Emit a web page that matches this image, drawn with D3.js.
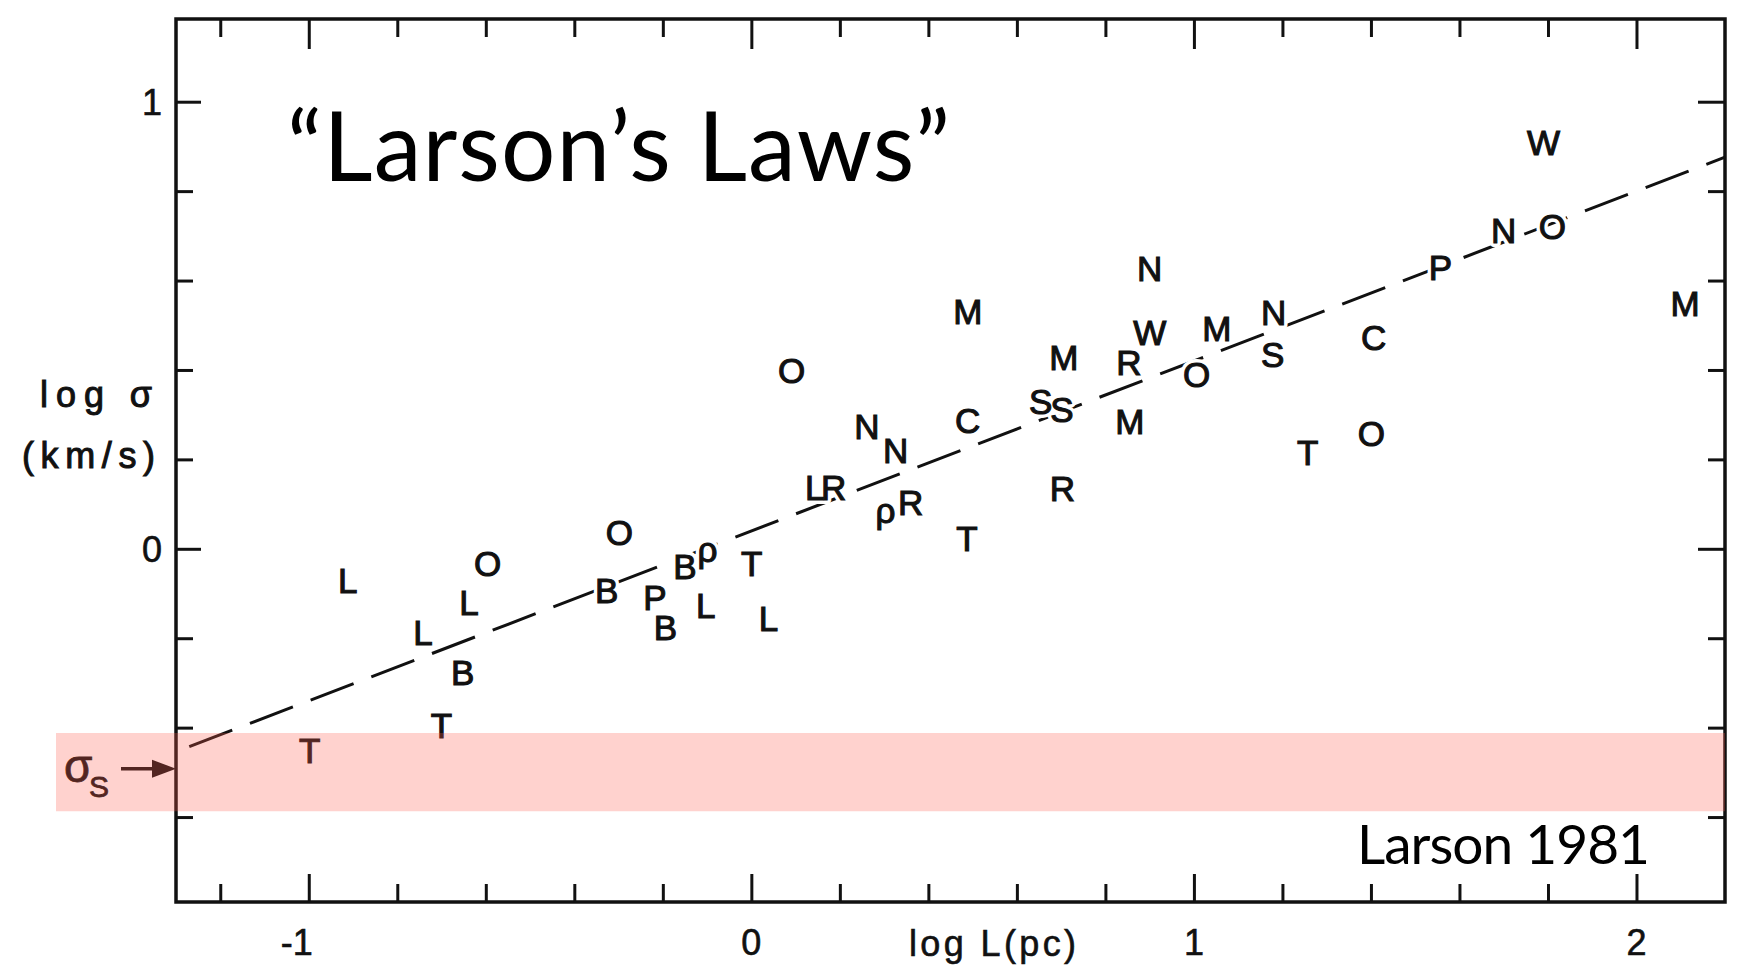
<!DOCTYPE html>
<html><head><meta charset="utf-8">
<script src="https://cdn.jsdelivr.net/npm/d3@7"></script>
<style>html,body{margin:0;padding:0;background:#fff;} svg{display:block;}</style>
</head><body>
<svg id="chart" width="1739" height="974"></svg>
<script>
// ---- data (read from Larson 1981, Fig. 1) ----
const labels    = ["W","N","O","P","M","N","W","M","N","S","C","M","M","R","O","O","S","S","M","C","N","N","T","O","L","R","ρ","R","R","T","O","L","O","B","B","ρ","T","P","B","L","L","L","L","B","T","T"];
const logL      = [1.79,1.70,1.81,1.557,2.11,0.90,0.90,1.052,1.18,1.178,1.406,0.489,0.706,0.853,1.006,0.091,0.654,0.702,0.855,0.489,0.261,0.326,1.257,1.401,0.143,0.186,0.303,0.36,0.703,0.487,-0.298,-0.912,-0.596,-0.327,-0.15,-0.099,0.001,-0.218,-0.194,-0.103,0.039,-0.638,-0.742,-0.652,-0.70,-0.998];
const logSigma  = [0.91,0.713,0.72,0.63,0.55,0.628,0.485,0.494,0.528,0.434,0.472,0.53,0.427,0.418,0.389,0.40,0.329,0.311,0.284,0.288,0.273,0.221,0.215,0.259,0.138,0.138,0.087,0.103,0.136,0.024,0.036,-0.07,-0.032,-0.092,-0.04,-0.002,-0.032,-0.108,-0.175,-0.126,-0.155,-0.121,-0.188,-0.277,-0.394,-0.45];
const fitIntercept = 0.04;          // log sigma = 0.04 + 0.38 log L
const fitSlope = 0.38;
const fitRange = [-1.27, 2.2];
const xMajorTicks = [-1, 0, 1, 2];
const xTickLabels = ["-1", "0", "1", "2"];
const xMinorTicks = [-1.2, -0.8, -0.6, -0.4, -0.2, 0.2, 0.4, 0.6, 0.8, 1.2, 1.4, 1.6, 1.8];
const yMajorTicks = [0, 1];
const yTickLabels = ["0", "1"];
const yMinorTicks = [-0.6, -0.4, -0.2, 0.2, 0.4, 0.6, 0.8];
const sigmaS = -0.492;
const sigmaSBand = [-0.587, -0.412];
const xDomain = [-1.3, 2.2];
const yDomain = [-0.79, 1.185];

// ---- layout ----
const svg = d3.select("#chart");
const L = 176, R = 1725, T = 19, B = 902;
const x = d3.scaleLinear().domain(xDomain).range([L, R]);
const y = d3.scaleLinear().domain(yDomain).range([B, T]);
const ink = "#111";
const letterFont = "'Liberation Sans', Arial, sans-serif";

// frame
svg.append("rect").attr("x", L).attr("y", T).attr("width", R - L).attr("height", B - T)
  .attr("fill", "none").attr("stroke", ink).attr("stroke-width", 3.5);

function styleAxis(g) {
  g.select(".domain").remove();
  g.selectAll(".tick line").attr("stroke", ink).attr("stroke-width", 3);
  g.selectAll(".tick text").remove();
}
// bottom / top ticks
svg.append("g").attr("transform", `translate(0,${B})`)
  .call(d3.axisBottom(x).tickValues(xMinorTicks).tickSize(-18).tickFormat("")).call(styleAxis);
svg.append("g").attr("transform", `translate(0,${B})`)
  .call(d3.axisBottom(x).tickValues(xMajorTicks).tickSize(-28).tickFormat("")).call(styleAxis);
svg.append("g").attr("transform", `translate(0,${T})`)
  .call(d3.axisTop(x).tickValues(xMinorTicks).tickSize(-18).tickFormat("")).call(styleAxis);
svg.append("g").attr("transform", `translate(0,${T})`)
  .call(d3.axisTop(x).tickValues(xMajorTicks).tickSize(-30).tickFormat("")).call(styleAxis);
// left / right ticks
svg.append("g").attr("transform", `translate(${L},0)`)
  .call(d3.axisLeft(y).tickValues(yMinorTicks).tickSize(-17).tickFormat("")).call(styleAxis);
svg.append("g").attr("transform", `translate(${L},0)`)
  .call(d3.axisLeft(y).tickValues(yMajorTicks).tickSize(-25).tickFormat("")).call(styleAxis);
svg.append("g").attr("transform", `translate(${R},0)`)
  .call(d3.axisRight(y).tickValues(yMinorTicks).tickSize(-17).tickFormat("")).call(styleAxis);
svg.append("g").attr("transform", `translate(${R},0)`)
  .call(d3.axisRight(y).tickValues(yMajorTicks).tickSize(-27).tickFormat("")).call(styleAxis);

// tick labels
const lblStyle = s => s.attr("font-family", letterFont).attr("font-size", 36).attr("fill", ink)
  .attr("stroke", ink).attr("stroke-width", 0.6);
svg.append("g").selectAll("text").data(xMajorTicks).join("text")
  .attr("x", (d) => x(d) + (d < 0 ? -12 : 0)).attr("y", 955)
  .attr("text-anchor", "middle").text((d, i) => xTickLabels[i]).call(lblStyle);
svg.append("g").selectAll("text").data(yMajorTicks).join("text")
  .attr("x", 162).attr("y", d => y(d)).attr("dy", "0.36em")
  .attr("text-anchor", "end").text((d, i) => yTickLabels[i]).call(lblStyle);

// axis titles
svg.append("text").attr("x", 909).attr("y", 956).attr("textLength", 167).attr("lengthAdjust", "spacing")
  .text("log L(pc)").call(lblStyle);
svg.append("text").attr("x", 40).attr("y", 407).attr("textLength", 112).attr("lengthAdjust", "spacing")
  .text("log σ").call(lblStyle).attr("stroke-width", 1);
svg.append("text").attr("x", 22).attr("y", 468).attr("textLength", 133).attr("lengthAdjust", "spacing")
  .text("(km/s)").call(lblStyle).attr("stroke-width", 1);

// fit line
const fitLine = d3.line().x(d => x(d)).y(d => y(fitIntercept + fitSlope * d));
svg.append("path").datum(fitRange).attr("d", fitLine)
  .attr("fill", "none").attr("stroke", ink).attr("stroke-width", 3)
  .attr("stroke-dasharray", "46 19");

// data letters: white knock-out first, then letters
const pts = labels.map((l, i) => ({ l, lx: logL[i], ly: logSigma[i] }));
svg.append("g").selectAll("text").data(pts).join("text")
  .attr("x", d => x(d.lx)).attr("y", d => y(d.ly)).attr("dy", "0.36em")
  .attr("text-anchor", "middle").attr("font-family", letterFont).attr("font-size", 35)
  .attr("fill", "#fff").attr("stroke", "#fff").attr("stroke-width", 8).attr("stroke-linejoin", "round")
  .text(d => d.l);
svg.append("g").selectAll("text").data(pts).join("text")
  .attr("x", d => x(d.lx)).attr("y", d => y(d.ly)).attr("dy", "0.36em")
  .attr("text-anchor", "middle").attr("font-family", letterFont).attr("font-size", 35)
  .attr("fill", ink).attr("stroke", ink).attr("stroke-width", 1.1)
  .text(d => d.l);

// sigma_S marker
const ys = y(sigmaS);
const sLbl = svg.append("text").attr("x", 64).attr("y", 782)
  .attr("font-family", letterFont).attr("fill", ink).attr("stroke", ink).attr("stroke-width", 0.8);
sLbl.append("tspan").attr("font-size", 46).text("σ");
sLbl.append("tspan").attr("font-size", 30).attr("x", 89).attr("y", 797).text("S");
svg.append("line").attr("x1", 121).attr("x2", 156).attr("y1", ys).attr("y2", ys)
  .attr("stroke", ink).attr("stroke-width", 3.5);
svg.append("path").attr("d", `M${L},${ys} L${L - 24},${ys - 9} L${L - 24},${ys + 9} Z`).attr("fill", ink);

// highlighted band
svg.append("rect").attr("x", 56).attr("y", y(sigmaSBand[1])).attr("width", R - 56)
  .attr("height", y(sigmaSBand[0]) - y(sigmaSBand[1]))
  .attr("fill", "rgb(255,91,76)").attr("fill-opacity", 0.275);

// annotations
svg.append("text").attr("x", 287).attr("y", 181).attr("textLength", 663).attr("lengthAdjust", "spacing")
  .attr("font-family", "Lato, 'Open Sans', sans-serif").attr("font-size", 96).attr("fill", "#000")
  .text("\u201CLarson\u2019s Laws\u201D");
svg.append("text").attr("x", 1357).attr("y", 864).attr("textLength", 293).attr("lengthAdjust", "spacing")
  .attr("font-family", "Lato, 'Open Sans', sans-serif").attr("font-size", 55).attr("fill", "#000")
  .text("Larson 1981");
</script>
</body></html>
